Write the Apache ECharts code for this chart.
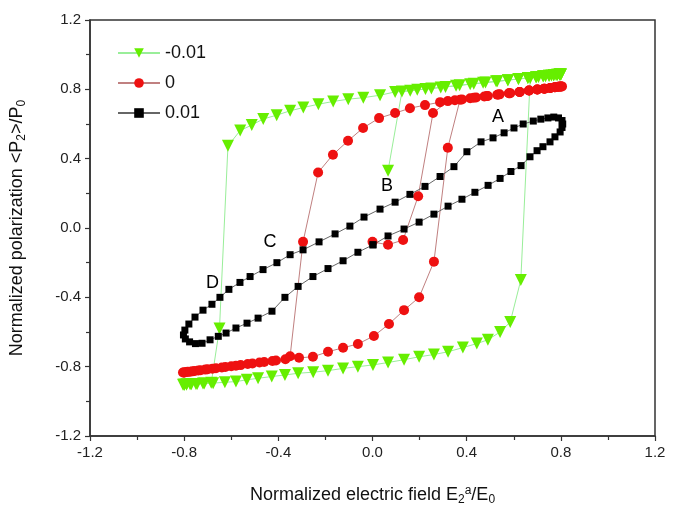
<!DOCTYPE html>
<html>
<head>
<meta charset="utf-8">
<script src="https://cdn.jsdelivr.net/npm/echarts@6/dist/echarts.min.js"></script>
<style>
  html, body { margin: 0; padding: 0; background: #fff; }
  #chart { width: 679px; height: 511px; }
</style>
</head>
<body>
<div id="chart"></div>
<script>
// series names (legend)
var seriesNames = ['-0.01', '0', '0.01'];

// -0.01 (green triangles) in plotting order
var greenE = [0.066, 0.125, 0.19, 0.25, 0.31, 0.37, 0.43, 0.48, 0.53, 0.575, 0.62, 0.66, 0.695, 0.725, 0.75, 0.77, 0.785, 0.795, 0.80,
  0.80, 0.795, 0.785, 0.77, 0.75, 0.725, 0.695, 0.66, 0.62, 0.575, 0.525, 0.47, 0.415, 0.355, 0.29, 0.225, 0.16,
  0.096, 0.032, -0.039, -0.103, -0.167, -0.230, -0.294, -0.350, -0.407, -0.464, -0.513, -0.562, -0.614,
  -0.65, -0.685, -0.72, -0.75, -0.775, -0.79, -0.80, -0.805,
  -0.80, -0.79, -0.77, -0.745, -0.715, -0.677, -0.627, -0.58, -0.534, -0.486, -0.428, -0.372, -0.316, -0.252, -0.189, -0.125, -0.062,
  0.002, 0.066, 0.134, 0.198, 0.261, 0.321, 0.384, 0.443, 0.49, 0.542, 0.585, 0.63, 0.67,
  0.705, 0.735, 0.76, 0.78, 0.795, 0.80];
var greenP = [0.33, 0.787, 0.797, 0.805, 0.814, 0.823, 0.832, 0.839, 0.846, 0.853, 0.86, 0.865, 0.87, 0.875, 0.878, 0.881, 0.884, 0.885, 0.886,
  0.886, 0.885, 0.884, 0.881, 0.878, 0.875, 0.87, 0.865, 0.86, 0.853, 0.846, 0.838, 0.83, 0.821, 0.811, 0.802, 0.792,
  0.785, 0.766, 0.752, 0.743, 0.730, 0.714, 0.695, 0.676, 0.651, 0.629, 0.594, 0.562, 0.474,
  -0.58, -0.893, -0.897, -0.90, -0.902, -0.903, -0.904, -0.904,
  -0.904, -0.903, -0.902, -0.90, -0.897, -0.895, -0.89, -0.886, -0.876, -0.867, -0.857, -0.848, -0.838, -0.832, -0.823, -0.81, -0.80,
  -0.79, -0.776, -0.76, -0.743, -0.73, -0.714, -0.69, -0.667, -0.645, -0.60, -0.543, -0.30, 0.866,
  0.871, 0.876, 0.88, 0.883, 0.885, 0.886];

// 0 (red circles)
var redE = [0.0, 0.066, 0.13, 0.194, 0.257, 0.32, 0.38, 0.44, 0.49, 0.54, 0.585, 0.625, 0.665, 0.70, 0.73, 0.755, 0.775, 0.79, 0.80,
  0.805, 0.80, 0.79, 0.775, 0.755, 0.73, 0.70, 0.665, 0.625, 0.58, 0.53, 0.475, 0.415, 0.35, 0.287,
  0.223, 0.159, 0.096, 0.028, -0.040, -0.104, -0.168, -0.231, -0.295, -0.35,
  -0.41, -0.46, -0.51, -0.56, -0.60, -0.64, -0.68, -0.71, -0.74, -0.765, -0.785, -0.80, -0.805,
  -0.80, -0.79, -0.775, -0.755, -0.73, -0.70, -0.665, -0.625, -0.58, -0.53, -0.48, -0.425, -0.37, -0.312,
  -0.253, -0.189, -0.125, -0.062, 0.006, 0.07, 0.134, 0.198, 0.261, 0.32, 0.372,
  0.43, 0.485, 0.535, 0.58, 0.625, 0.665, 0.70, 0.73, 0.755, 0.775, 0.79, 0.80];
var redP = [-0.08, -0.097, -0.069, 0.183, 0.663, 0.732, 0.742, 0.753, 0.762, 0.771, 0.778, 0.785, 0.793, 0.799, 0.804, 0.808, 0.812, 0.815, 0.816,
  0.817, 0.816, 0.815, 0.812, 0.808, 0.804, 0.799, 0.793, 0.785, 0.777, 0.769, 0.759, 0.749, 0.737, 0.726,
  0.709, 0.691, 0.663, 0.634, 0.577, 0.503, 0.423, 0.32, -0.08, -0.74,
  -0.764, -0.773, -0.782, -0.791, -0.798, -0.805, -0.812, -0.817, -0.822, -0.827, -0.830, -0.833, -0.834,
  -0.833, -0.831, -0.829, -0.825, -0.821, -0.815, -0.809, -0.802, -0.794, -0.785, -0.776, -0.767, -0.757, -0.749,
  -0.743, -0.714, -0.691, -0.669, -0.623, -0.554, -0.474, -0.40, -0.194, 0.463, 0.74,
  0.751, 0.761, 0.770, 0.777, 0.785, 0.793, 0.799, 0.804, 0.808, 0.812, 0.815, 0.816];

// 0.01 (black squares)
var blackE = [0.002, 0.066, 0.134, 0.198, 0.261, 0.321, 0.38, 0.435, 0.491, 0.542, 0.588, 0.631, 0.669, 0.699, 0.724, 0.754, 0.775, 0.797,
  0.805, 0.808, 0.805, 0.79, 0.77, 0.745, 0.715,
  0.683, 0.64, 0.601, 0.559, 0.512, 0.461, 0.401, 0.346, 0.287, 0.223, 0.159, 0.096, 0.032, -0.036, -0.096,
  -0.159, -0.227, -0.295, -0.35, -0.406, -0.465, -0.52, -0.563, -0.61, -0.648, -0.682, -0.72,
  -0.754, -0.78, -0.797, -0.803, -0.795, -0.777, -0.752, -0.724,
  -0.69, -0.655, -0.622, -0.58, -0.533, -0.486, -0.427, -0.372, -0.316, -0.253, -0.189, -0.125, -0.062, 0.002];
var blackP = [-0.097, -0.046, -0.006, 0.034, 0.08, 0.126, 0.166, 0.206, 0.246, 0.286, 0.326, 0.36, 0.411, 0.446, 0.469, 0.497, 0.526, 0.554,
  0.58, 0.60, 0.62, 0.635, 0.64, 0.635, 0.628,
  0.617, 0.60, 0.577, 0.549, 0.52, 0.497, 0.44, 0.354, 0.297, 0.24, 0.194, 0.149, 0.109, 0.063, 0.011,
  -0.034, -0.08, -0.126, -0.154, -0.20, -0.24, -0.28, -0.314, -0.354, -0.40, -0.44, -0.474,
  -0.514, -0.554, -0.589, -0.617, -0.64, -0.657, -0.667, -0.665,
  -0.645, -0.625, -0.606, -0.577, -0.549, -0.52, -0.48, -0.40, -0.337, -0.28, -0.234, -0.189, -0.14, -0.097];

// curve labels
var noteText = ['A', 'B', 'C', 'D'];
var noteE = [0.533, 0.062, -0.435, -0.68];
var noteP = [0.64, 0.24, -0.08, -0.32];

function pairs(xs, ys) {
  var out = [];
  for (var i = 0; i < xs.length; i++) out.push([xs[i], ys[i]]);
  return out;
}

var font = '"Liberation Sans", Arial, sans-serif';
var nameRich = {
  s: { fontSize: 12, fontFamily: font, color: '#111', padding: [10, 0, 0, 0] },
  p: { fontSize: 12, fontFamily: font, color: '#111', padding: [0, 0, 9, 0] }
};

function valueAxis(name, gap) {
  return {
    type: 'value',
    min: -1.2,
    max: 1.2,
    interval: 0.4,
    name: name,
    nameLocation: 'middle',
    nameGap: gap,
    nameTextStyle: { fontSize: 18, fontFamily: font, color: '#111', rich: nameRich },
    axisLine: { show: true, onZero: false, lineStyle: { color: '#333', width: 1.5 } },
    axisTick: { show: true, inside: false, length: 5, lineStyle: { color: '#333', width: 1.2 } },
    minorTick: { show: true, splitNumber: 2, length: 4, lineStyle: { color: '#333', width: 1.2 } },
    axisLabel: { fontSize: 15, fontFamily: font, color: '#222', margin: 9,
      formatter: function (v) { return v.toFixed(1); } },
    splitLine: { show: false }
  };
}

var noteData = [];
for (var k = 0; k < noteText.length; k++) noteData.push({ value: [noteE[k], noteP[k]], name: noteText[k] });

var option = {
  animation: false,
  backgroundColor: '#fff',
  grid: { left: 90, right: 24, top: 20, bottom: 71, show: true, borderColor: '#333', borderWidth: 1.5 },
  legend: {
    data: seriesNames,
    orient: 'vertical',
    left: 112,
    top: 39,
    itemWidth: 42,
    itemHeight: 12,
    itemGap: 12,
    textStyle: { fontSize: 18, fontFamily: font, color: '#111' }
  },
  xAxis: valueAxis('Normalized electric field E{s|2}{p|a}/E{s|0}', 48),
  yAxis: valueAxis('Normalized polarization <P{s|2}>/P{s|0}', 62),
  series: [
    {
      name: seriesNames[0], type: 'line', data: pairs(greenE, greenP),
      symbol: 'triangle', symbolRotate: 180, symbolSize: 12,
      itemStyle: { color: '#66ee00' },
      lineStyle: { color: '#99ee99', width: 1 }
    },
    {
      name: seriesNames[1], type: 'line', data: pairs(redE, redP),
      symbol: 'circle', symbolSize: 10,
      itemStyle: { color: '#ee1111' },
      lineStyle: { color: '#c08080', width: 1 }
    },
    {
      name: seriesNames[2], type: 'line', data: pairs(blackE, blackP),
      symbol: 'rect', symbolSize: 7,
      itemStyle: { color: '#000' },
      lineStyle: { color: '#666', width: 1 }
    },
    {
      type: 'scatter', data: noteData, symbolSize: 0, silent: true,
      itemStyle: { opacity: 1 },
      label: { show: true, position: 'inside', formatter: '{b}', fontSize: 18, fontFamily: font,
        color: '#000', opacity: 1, textBorderWidth: 0 }
    }
  ]
};

var mychart = echarts.init(document.getElementById('chart'));
mychart.setOption(option);
</script>
</body>
</html>
